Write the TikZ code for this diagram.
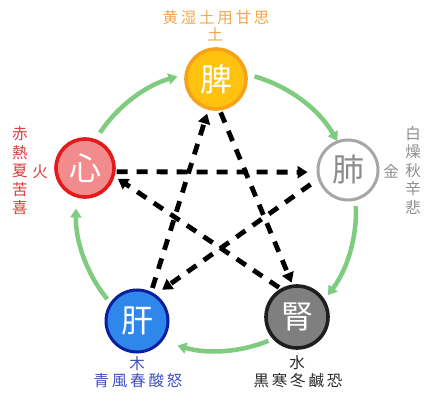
\documentclass[tikz,border=0pt]{standalone}
\usepackage{fontspec}
\setmainfont{Noto Sans CJK JP}
\newfontfamily\cjksp[LetterSpace=18]{Noto Sans CJK JP}
\usetikzlibrary{arrows.meta}
\definecolor{pifill}{HTML}{FFC20E}
\definecolor{piborder}{HTML}{F7A21B}
\definecolor{toptxt}{HTML}{F0A850}
\definecolor{xinfill}{HTML}{F28B8B}
\definecolor{xinborder}{HTML}{E3191B}
\definecolor{redtxt}{HTML}{E2393B}
\definecolor{feiborder}{HTML}{A6A6A6}
\definecolor{feitxt}{HTML}{8C8C8C}
\definecolor{graytxt}{HTML}{8F8F8F}
\definecolor{ganfill}{HTML}{2F86EB}
\definecolor{ganborder}{HTML}{0A1E9E}
\definecolor{bluetxt}{HTML}{3F4FBF}
\definecolor{shenfill}{HTML}{7F7F7F}
\definecolor{shenborder}{HTML}{1E1E1E}
\definecolor{darktxt}{HTML}{2A2A2A}
\definecolor{grn}{HTML}{7FCB7F}
\begin{document}
\begin{tikzpicture}[x=1pt,y=1pt,
  elem/.style={circle, minimum size=60pt, inner sep=0pt, line width=3.6pt,
    font=\fontsize{32}{32}\selectfont},
  garrow/.style={line width=4.5pt, draw=grn, -{Triangle[length=9pt,width=11pt,fill=grn]}},
  darrow/.style={line width=4.8pt, draw=black, dash pattern=on 11pt off 9pt,
    -{Triangle[length=10pt,width=12pt]}},
  lab/.style={inner sep=0pt, font=\fontsize{15.5}{18.5}\selectfont},
  labsp/.style={inner sep=0pt, font=\cjksp\fontsize{15.5}{18.5}\selectfont},
  vlab/.style={inner sep=0pt, align=center, font=\fontsize{15.5}{18.5}\selectfont}]
\useasboundingbox (0,0) rectangle (430,407);
\fill[white] (0,0) rectangle (430,407);
\coordinate (C) at (216,196);
% element circles
\node[elem, fill=pifill, draw=piborder, text=white] (pi) at (216,328) {脾};
\node[elem, fill=xinfill, draw=xinborder, text=white, minimum size=58pt] (xin) at (85,239) {心};
\node[elem, fill=white, draw=feiborder, text=feitxt, line width=3pt] (fei) at (348,237) {肺};
\node[elem, fill=ganfill, draw=ganborder, text=white, line width=3pt, minimum size=62pt] (gan) at (137,86) {肝};
\node[elem, fill=shenfill, draw=shenborder, text=white, minimum size=62pt] (shen) at (297,90) {腎};
% generating cycle (green arcs)
\draw[garrow] (C) ++(74:140) arc[start angle=74, end angle=30, radius=140];
\draw[garrow] (C) ++(2:140) arc[start angle=2, end angle=-37, radius=140];
\draw[garrow] (C) ++(-68:140) arc[start angle=-68, end angle=-106, radius=140];
\draw[garrow] (C) ++(-141:140) arc[start angle=-141, end angle=-181, radius=140];
\draw[garrow] (C) ++(146:140) arc[start angle=146, end angle=106, radius=140];
% controlling cycle (dashed star)
\draw[darrow, shorten <=1pt, shorten >=9pt] (xin.-7) -- (fei.184);
\draw[darrow, shorten <=9pt, shorten >=8pt] (fei.197) -- (gan.55);
\draw[darrow, shorten <=4pt, shorten >=4pt] (gan.64) -- (pi.256);
\draw[darrow, shorten <=2pt, shorten >=2pt] (pi.277) -- (shen.98);
\draw[darrow, shorten <=2pt, shorten >=4pt] (shen.120) -- (xin.-16);
% labels
\node[labsp, text=toptxt] (tl1) at (216,389) {黄湿土用甘思};
\node[lab, text=toptxt] (tl2) at (215,373) {土};
\node[vlab, text=redtxt] (ll1) at (20,236) {赤\\熱\\夏\\苦\\喜};
\node[lab, text=redtxt] (ll2) at (40,235) {火};
\node[vlab, text=graytxt] (rl1) at (413,237) {白\\燥\\秋\\辛\\悲};
\node[lab, text=graytxt] (rl2) at (391,236) {金};
\node[lab, text=bluetxt] (bl2) at (137,43) {木};
\node[labsp, text=bluetxt] (bl1) at (138,26) {青風春酸怒};
\node[lab, text=darktxt] (br2) at (297,44) {水};
\node[labsp, text=darktxt] (br1) at (298,26) {黒寒冬鹹恐};
\end{tikzpicture}
\end{document}
